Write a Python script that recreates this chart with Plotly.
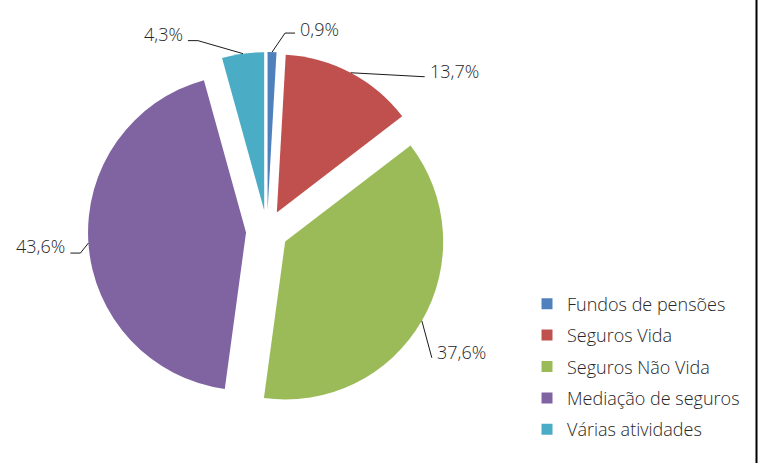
import math
import plotly.graph_objects as go

labels = ["Fundos de pensões", "Seguros Vida", "Seguros Não Vida", "Mediação de seguros", "Várias atividades"]
values = [0.9, 13.7, 37.6, 43.6, 4.3]
colors = ["#4F81BD", "#C0504D", "#9BBB59", "#8064A2", "#4BACC6"]

W, H = 758, 463
FONT = "Open Sans"
TXT = "#262626"
PULL = 0.133
DOM_X = [88 / W, 446 / W]
DOM_Y = [53 / H, 411 / H]

# leader-line styling per label: (elbow dx, elbow dy, horizontal tail, text side)
leader_style = [
    (13, -19, 10, "left"),
    (74, 4, 0, "left"),
    (10, 37, 0, "left"),
    (-8, 10, -10, "right"),
    (-45, -13, -10, "right"),
]
text_dy = [-4, -6, -6, -7, -7]


def fmt(v):
    return f"{v:.1f}".replace(".", ",") + "%"


fig = go.Figure()
fig.add_trace(go.Pie(
    labels=labels,
    values=values,
    sort=False,
    direction="clockwise",
    rotation=0,
    pull=[PULL] * len(values),
    marker=dict(colors=colors, line=dict(width=0)),
    textinfo="none",
    hoverinfo="label+value",
    showlegend=False,
    domain=dict(x=DOM_X, y=DOM_Y),
))

# legend entries (separate groups so spacing can be tuned)
for lab, col in zip(labels, colors):
    fig.add_trace(go.Scatter(
        x=[None], y=[None], mode="markers", name=lab, legendgroup=lab,
        marker=dict(symbol="square", size=11, color=col),
        hoverinfo="skip", showlegend=True,
    ))

# geometry of the pie in pixels (same rule plotly uses)
boxW = W * (DOM_X[1] - DOM_X[0])
boxH = H * (DOM_Y[1] - DOM_Y[0])
R = min(boxW, boxH) / 2 / (1 + PULL)
cx = W * (DOM_X[0] + DOM_X[1]) / 2
cy = H - H * (DOM_Y[0] + DOM_Y[1]) / 2
total = sum(values)


def px(x):
    return x / W


def py(y):
    return 1 - y / H


shapes = []
annotations = []
cum = 0.0
for v, (edx, edy, tail, side), tdy in zip(values, leader_style, text_dy):
    mid = (cum + v / 2) / total * 2 * math.pi
    cum += v
    ex = cx + R * (1 + PULL) * math.sin(mid)
    ey = cy - R * (1 + PULL) * math.cos(mid)
    bx, by = ex + edx, ey + edy
    tx, ty = bx + tail, by
    shapes.append(dict(
        type="path", xref="paper", yref="paper",
        path=f"M {px(ex)},{py(ey)} L {px(bx)},{py(by)} L {px(tx)},{py(ty)}",
        line=dict(color="#1a1a1a", width=1),
    ))
    gap = 3 if side == "left" else -3
    annotations.append(dict(
        xref="paper", yref="paper", x=px(tx + gap), y=py(ty + tdy),
        text=fmt(v), showarrow=False, xanchor=side, yanchor="middle",
        font=dict(family=FONT, size=18, color=TXT, weight=300),
    ))

shapes.append(dict(type="line", xref="paper", yref="paper",
                   x0=756.5 / W, x1=756.5 / W, y0=0, y1=1,
                   line=dict(color="black", width=2)))

fig.update_layout(
    width=W, height=H,
    margin=dict(l=0, r=0, t=0, b=0, autoexpand=False),
    paper_bgcolor="white",
    plot_bgcolor="white",
    showlegend=True,
    xaxis=dict(visible=False),
    yaxis=dict(visible=False),
    legend=dict(
        x=527 / W, y=py(366.5), xanchor="left", yanchor="middle",
        font=dict(family=FONT, size=18, color=TXT, weight=300),
        itemwidth=30,
        traceorder="grouped",
        tracegroupgap=5,
        itemclick=False, itemdoubleclick=False,
    ),
    shapes=shapes,
    annotations=annotations,
)

fig.write_html("out.html", config={"displayModeBar": False})
